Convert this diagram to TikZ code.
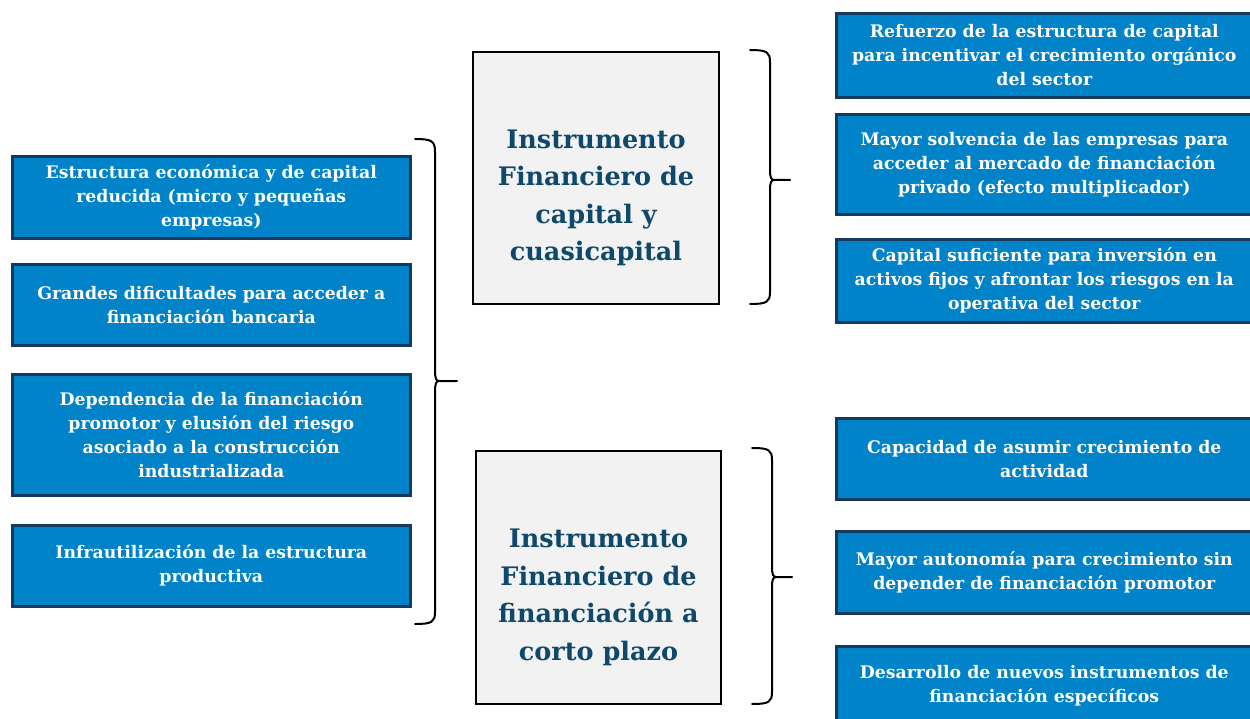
\documentclass[tikz,border=0pt]{standalone}
\usepackage{fontspec}
\setmainfont{DejaVu Serif}
\definecolor{boxblue}{RGB}{0,131,201}
\definecolor{boxedge}{RGB}{22,58,92}
\definecolor{midfill}{RGB}{242,242,242}
\definecolor{midtext}{RGB}{14,72,106}
\tikzset{
  bluebox/.style={rectangle, draw=boxedge, line width=2.6pt, fill=boxblue,
    text=white, font=\fontsize{17.3}{24}\selectfont\bfseries, align=center,
    anchor=north west, inner sep=0pt},
  midbox/.style={rectangle, draw=black, line width=2pt, fill=midfill,
    anchor=north west, inner sep=0pt},
  midlabel/.style={text=midtext, font=\fontsize{25.5}{37.5}\selectfont\bfseries,
    align=center, inner sep=0pt},
  bracepath/.style={draw=black, line width=2pt, line cap=round, line join=round}
}
\begin{document}
\begin{tikzpicture}[x=1pt,y=-1pt]
\useasboundingbox (0,0) rectangle (1250,719);
\fill[white] (0,0) rectangle (1250,719);
% left boxes
\node[bluebox, minimum width=398pt, minimum height=82pt] (l1) at (11,155)
  {Estructura económica y de capital\\reducida (micro y pequeñas\\empresas)};
\node[bluebox, minimum width=398pt, minimum height=81pt] (l2) at (11,263)
  {Grandes dificultades para acceder a\\financiación bancaria};
\node[bluebox, minimum width=398pt, minimum height=121pt] (l3) at (11,373)
  {Dependencia de la financiación\\promotor y elusión del riesgo\\asociado a la construcción\\industrializada};
\node[bluebox, minimum width=398pt, minimum height=81pt] (l4) at (11,524)
  {Infrautilización de la estructura\\productiva};
% middle boxes
\node[midbox, minimum width=246pt, minimum height=252pt] (m1) at (472,51) {};
\node[midlabel] (m1t) at ([yshift=-20pt]m1.center)
  {Instrumento\\Financiero de\\capital y\\cuasicapital};
\node[midbox, minimum width=245pt, minimum height=253pt] (m2) at (475,450) {};
\node[midlabel] (m2t) at ([yshift=-20pt]m2.center)
  {Instrumento\\Financiero de\\financiación a\\corto plazo};
% right boxes
\node[bluebox, minimum width=430pt, minimum height=84pt] (r1) at (835,12)
  {\hspace*{-14pt}Refuerzo de la estructura de capital\\\hspace*{-14pt}para incentivar el crecimiento orgánico\\\hspace*{-14pt}del sector};
\node[bluebox, minimum width=430pt, minimum height=100pt] (r2) at (835,113)
  {\hspace*{-14pt}Mayor solvencia de las empresas para\\\hspace*{-14pt}acceder al mercado de financiación\\\hspace*{-14pt}privado (efecto multiplicador)};
\node[bluebox, minimum width=430pt, minimum height=83pt] (r3) at (835,238)
  {\hspace*{-14pt}Capital suficiente para inversión en\\\hspace*{-14pt}activos fijos y afrontar los riesgos en la\\\hspace*{-14pt}operativa del sector};
\node[bluebox, minimum width=430pt, minimum height=81pt] (r4) at (835,417)
  {\hspace*{-14pt}Capacidad de asumir crecimiento de\\\hspace*{-14pt}actividad};
\node[bluebox, minimum width=430pt, minimum height=110pt, text depth=0pt] (r6) at (835,645)
  {\hspace*{-14pt}Desarrollo de nuevos instrumentos de\\\hspace*{-14pt}financiación específicos\\[10pt]};
\node[bluebox, minimum width=430pt, minimum height=82pt] (r5) at (835,530)
  {\hspace*{-14pt}Mayor autonomía para crecimiento sin\\\hspace*{-14pt}depender de financiación promotor};
% braces
\draw[bracepath] (415,139) .. controls (432,139) and (435,141) .. (435,152)
  -- (435,370) .. controls (435,378) and (436,381) .. (439,381) -- (457,381)
  (439,381) .. controls (436,381) and (435,384) .. (435,392)
  -- (435,612) .. controls (435,622) and (432,624) .. (415,624);
\draw[bracepath] (750,50) .. controls (767,50) and (770,52) .. (770,62)
  -- (770,170) .. controls (770,177) and (771,180) .. (774,180) -- (790,180)
  (774,180) .. controls (771,180) and (770,183) .. (770,190)
  -- (770,292) .. controls (770,302) and (767,304) .. (750,304);
\draw[bracepath] (752,448) .. controls (769,448) and (772,450) .. (772,460)
  -- (772,567) .. controls (772,574) and (773,577) .. (776,577) -- (792,577)
  (776,577) .. controls (773,577) and (772,580) .. (772,587)
  -- (772,692) .. controls (772,702) and (769,704) .. (752,704);
\end{tikzpicture}
\end{document}
